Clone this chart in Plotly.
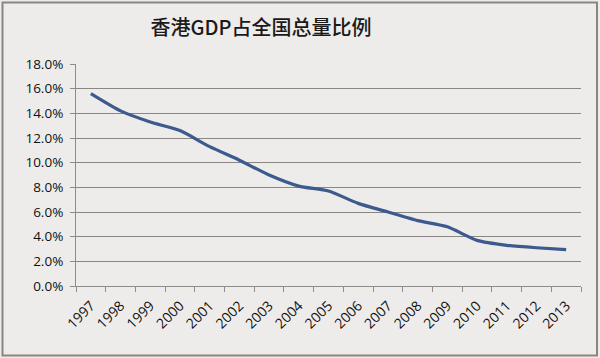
import plotly.graph_objects as go

years = [str(y) for y in range(1997, 2014)]
share = [15.6, 14.2, 13.3, 12.6, 11.3, 10.2, 9.0, 8.1, 7.7, 6.7, 6.0, 5.3, 4.8, 3.7, 3.3, 3.1, 2.95]
y_ticks = [0, 2, 4, 6, 8, 10, 12, 14, 16, 18]
y_labels = [f"{v:.1f}%" for v in y_ticks]
title_text = "香港GDP占全国总量比例"

W, H = 600, 358
L, R, T, B = 76, 19, 64, 72
pw, ph = W - L - R, H - T - B

def px(x):
    return (x - L) / pw

def py(y):
    return (H - B - y) / ph

fig = go.Figure()
fig.add_trace(go.Scatter(
    x=years, y=share, mode="lines",
    line=dict(color="#3c5a8e", width=3.2, shape="spline", smoothing=0.6),
    showlegend=False, hoverinfo="x+y",
))

fig.update_layout(
    width=W, height=H,
    margin=dict(l=L, r=R, t=T, b=B),
    paper_bgcolor="#eeecea",
    plot_bgcolor="#eeecea",
    font=dict(family="Open Sans, Noto Sans CJK SC", color="#1a1a1a"),
    title=dict(text=title_text, x=261 / W, xanchor="center", y=1 - 28 / H, yanchor="middle",
               font=dict(family="Noto Sans CJK SC", size=20, color="#1a1a1a", weight=500)),
    xaxis=dict(
        type="category", tickangle=-45, tickfont=dict(size=14, color="#111111"),
        showgrid=False, showline=True, linecolor="#8c8c8c", linewidth=1,
        ticks="outside", tickson="boundaries", ticklen=5, tickcolor="#8c8c8c",
        ticklabelstandoff=5,
        range=[-0.5, 16.5], fixedrange=True,
    ),
    yaxis=dict(
        range=[0, 18], tickvals=y_ticks, ticktext=y_labels, tickfont=dict(size=13.5, color="#111111"),
        showgrid=True, gridcolor="#8a8682", gridwidth=1,
        showline=True, linecolor="#8c8c8c", linewidth=1,
        ticks="outside", ticklen=5, tickcolor="#8c8c8c", ticklabelstandoff=4,
        zeroline=False, fixedrange=True,
    ),
    shapes=[dict(type="rect", xref="paper", yref="paper",
                 x0=px(2.5), x1=px(W - 3), y0=py(H - 2.5), y1=py(2.5),
                 line=dict(color="#8a8580", width=2), fillcolor="rgba(0,0,0,0)", layer="below")],
)

fig.write_html("out.html", config={"displayModeBar": False},
               post_script="document.body.style.margin='0';")
